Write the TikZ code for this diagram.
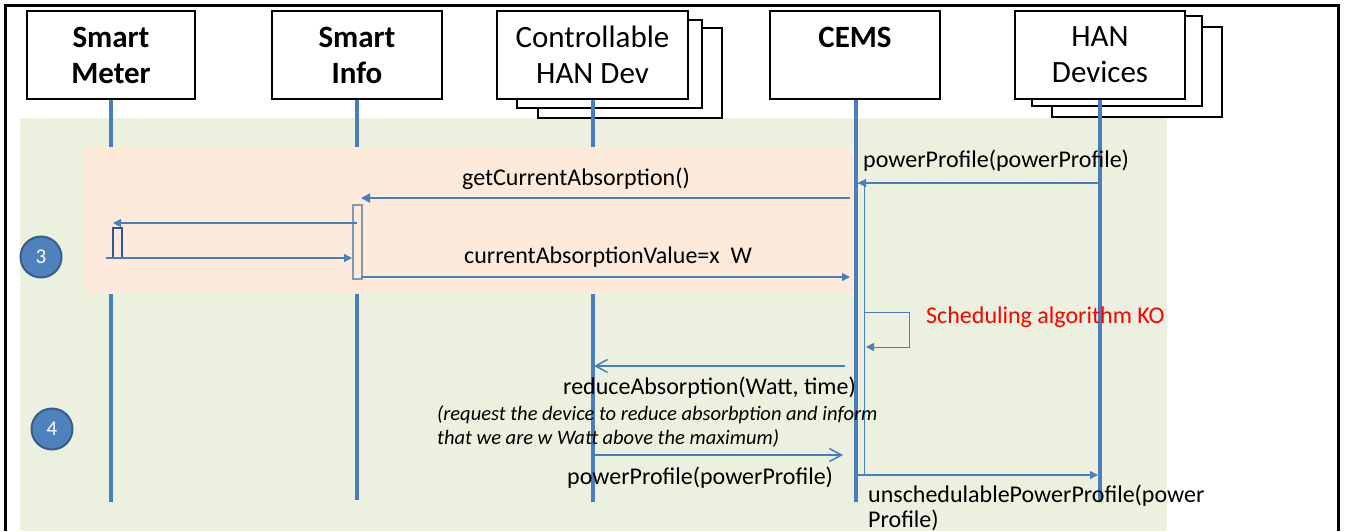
\documentclass[tikz,border=0pt]{standalone}
\usepackage{fontspec}
\setmainfont{Carlito}
\usetikzlibrary{arrows.meta}
\definecolor{lifeblue}{HTML}{4A7EBB}
\definecolor{bggreen}{HTML}{EBF1DE}
\definecolor{peach}{HTML}{FDEADA}
\definecolor{circfill}{HTML}{4F81BD}
\definecolor{circedge}{HTML}{385D8A}
\definecolor{actgray}{HTML}{8497B0}
\definecolor{actnavy}{HTML}{2F5597}
\begin{document}
\begin{tikzpicture}[x=1pt,y=-1pt,
  headbox/.style={draw=black, line width=2pt, fill=white, align=center, inner sep=0pt,
                  font=\fontsize{31}{36}\selectfont},
  shadowbox/.style={draw=black, line width=2pt, fill=white, inner sep=0pt},
  lifeline/.style={draw=lifeblue, line width=3.5pt},
  actbar/.style={line width=1.5pt, inner sep=0pt, anchor=north west},
  msg/.style={draw=lifeblue, line width=1.8pt, -{Triangle[length=9pt,width=9pt]}},
  thinmsg/.style={draw=lifeblue, line width=1.2pt, -{Triangle[length=8pt,width=8pt]}},
  reply/.style={draw=lifeblue, line width=1.5pt, -{Straight Barb[length=12pt,width=13pt]}},
  selfmsg/.style={draw=lifeblue, line width=1pt, -{Triangle[length=8pt,width=8pt]}},
  lbl/.style={anchor=base west, inner sep=0pt, font=\fontsize{24}{25}\selectfont},
  note/.style={anchor=base west, inner sep=0pt, align=left, font=\fontsize{20.5}{24}\selectfont\itshape},
  stepnum/.style={circle, fill=circfill, draw=circedge, line width=2pt, minimum size=41pt,
                  inner sep=0pt, text=white, font=\fontsize{21}{21}\selectfont},
]
\useasboundingbox (0,0) rectangle (1345,531);

% background panel and frame
\fill[bggreen] (20,118) rectangle (1167,531);
\draw[line width=3pt] (5,531) -- (5,5) -- (1338,5) -- (1338,531);

% stacked boxes behind the multi-instance participants
\node[shadowbox, minimum width=184pt, minimum height=90pt] (ctrl3) at (630,73) {};
\node[shadowbox, minimum width=185pt, minimum height=88pt] (ctrl2) at (609.5,64) {};
\node[shadowbox, minimum width=170pt, minimum height=90pt] (han3) at (1137,72) {};
\node[shadowbox, minimum width=170pt, minimum height=90pt] (han2) at (1117,61) {};

% participant heads
\node[headbox, minimum width=168pt, minimum height=88pt] (smeter) at (111,55) {\textbf{Smart}\\\textbf{Meter}};
\node[headbox, minimum width=170pt, minimum height=88pt] (sinfo) at (357,55) {\textbf{Smart}\\\textbf{Info}};
\node[headbox, minimum width=191pt, minimum height=88pt] (ctrl) at (592.5,55) {Controllable\\HAN Dev};
\node[headbox, minimum width=170pt, minimum height=88pt] (cems) at (855,55) {\textbf{CEMS}\\\phantom{I}};
\node[headbox, minimum width=170pt, minimum height=88pt] (han) at (1100,55) {HAN\\Devices};

% lifeline ends
\coordinate (smeterEnd) at (111,502);
\coordinate (sinfoEnd) at (357,500);
\coordinate (ctrlEnd) at (593,502);
\coordinate (cemsEnd) at (856,502);
\coordinate (hanEnd) at (1100,502);

\draw[lifeline] (smeter.south) -- (smeterEnd);
\draw[lifeline] (sinfo.south) -- (sinfoEnd);
\draw[lifeline] (ctrl.south -| ctrlEnd) -- (ctrlEnd);
\draw[lifeline] (cems.south -| cemsEnd) -- (cemsEnd);
\draw[lifeline] (han.south) -- (hanEnd);

% step 3 highlight
\fill[peach] (84,147) rectangle (854,294);

% activation bars
\node[actbar, draw=lifeblue, line width=1.3pt, minimum width=8pt, minimum height=292pt] (cemsact) at (856,183) {};
\node[actbar, draw=actgray, fill=peach, minimum width=9pt, minimum height=74pt] (sinfoact) at (352,204) {};
\node[actbar, draw=actnavy, fill=peach, minimum width=9pt, minimum height=30pt] (smeteract) at (112,227) {};

% message end points
\coordinate (m1a) at (1100,183); \coordinate (m1b) at (858,183);
\coordinate (m2a) at (850,198);  \coordinate (m2b) at (361,198);
\coordinate (m3a) at (357,223);  \coordinate (m3b) at (113,223);
\coordinate (m4a) at (106,258);  \coordinate (m4b) at (352,258);
\coordinate (m5a) at (361,277);  \coordinate (m5b) at (850,277);
\coordinate (m6a) at (864,312);  \coordinate (m6b) at (866,347);
\coordinate (m7a) at (845,366);  \coordinate (m7b) at (594,366);
\coordinate (m8a) at (593,455);  \coordinate (m8b) at (843,455);
\coordinate (m9a) at (856,475);  \coordinate (m9b) at (1098,475);

% messages
\draw[thinmsg] (m1a) -- (m1b);
\draw[msg] (m2a) -- (m2b);
\draw[thinmsg] (m3a) -- (m3b);
\draw[thinmsg] (m4a) -- (m4b);
\draw[thinmsg] (m5a) -- (m5b);
\draw[selfmsg] (m6a) -- (909,312) -- (909,347) -- (m6b);
\draw[reply] (m7a) -- (m7b);
\draw[reply] (m8a) -- (m8b);
\draw[thinmsg] (m9a) -- (m9b);

% message labels (multi-line nodes are placed by their last baseline)
\node[lbl] (l1) at (863,167) {powerProfile(powerProfile)};
\node[lbl] (l2) at (462,185) {getCurrentAbsorption()};
\node[lbl] (l5) at (464,263) {currentAbsorptionValue=x\ \ W};
\node[lbl, text=red] (l6) at (926,323) {Scheduling algorithm KO};
\node[lbl] (l7) at (563,394) {reduceAbsorption(Watt, time)};
\node[note] (l7n) at (437,444) {(request the device to reduce absorbption and inform\\that we are w Watt above the maximum)};
\node[lbl] (l8) at (567,484) {powerProfile(powerProfile)};
\node[lbl, align=left] (l9) at (868,527) {unschedulablePowerProfile(power\\Profile)};

% step markers
\node[stepnum] (s3) at (41,257) {3};
\node[stepnum] (s4) at (52,429) {4};
\end{tikzpicture}
\end{document}
